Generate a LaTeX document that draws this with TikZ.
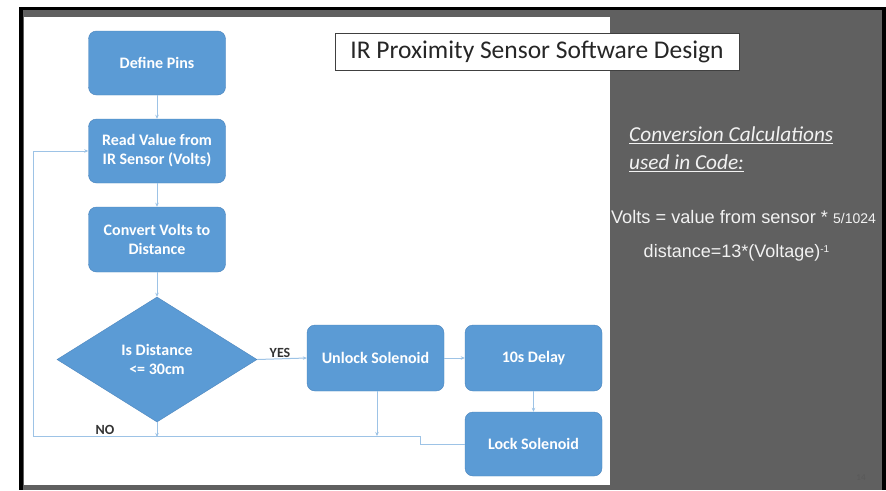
\documentclass[tikz,border=0pt]{standalone}
\usepackage{fontspec}
\setmainfont{Carlito}
\newfontfamily\arialf{Liberation Sans}
\usetikzlibrary{shapes.geometric,arrows.meta}
\definecolor{bxblue}{HTML}{5B9BD5}
\definecolor{bxedge}{HTML}{4A84BD}
\definecolor{lnblue}{HTML}{9DC3E6}
\definecolor{slgray}{HTML}{606060}
\definecolor{txtlight}{HTML}{F2F2F2}
\begin{document}
\begin{tikzpicture}[x=1pt,y=-1pt,
  box/.style={draw=bxedge, fill=bxblue, rounded corners=8pt, text=white,
    font=\bfseries\fontsize{16}{19}\selectfont, align=center,
    minimum width=137pt, minimum height=65pt, inner sep=1pt},
  decision/.style={diamond, draw=bxedge, fill=bxblue, text=white,
    font=\bfseries\fontsize{16}{19}\selectfont, align=center,
    minimum width=200pt, minimum height=125pt, inner sep=0pt},
  conn/.style={draw=lnblue, line width=1pt},
  arr/.style={conn, -{Stealth[length=4pt,width=3.5pt]}},
  lbl/.style={font=\bfseries\fontsize{14}{16}\selectfont, text=black!80, inner sep=1pt}
]
\useasboundingbox (0,0) rectangle (886,490);
% slide frame
\fill[white] (0,0) rectangle (886,490);
\fill[black] (19,7) rectangle (886,490);
\fill[slgray] (23,10) rectangle (882,490);
\fill[white] (24,17) rectangle (610,485);
% nodes
\node[box, minimum height=64pt] (def) at (157,63) {Define Pins};
\node[box, minimum height=64pt] (read) at (157,151) {Read Value from\\IR Sensor (Volts)};
\node[box] (conv) at (157,239.5) {Convert Volts to\\Distance};
\node[decision] (dia) at (157,359.5) {Is Distance\\<= 30cm};
\node[box, minimum height=66pt] (unlock) at (375.5,358) {Unlock Solenoid};
\node[box, minimum height=66pt] (delay) at (533.5,358) {10s Delay};
\node[box, minimum height=64pt] (lock) at (533.5,444) {Lock Solenoid};
\coordinate (j1) at (157,437);
\coordinate (j2) at (377,436);
\coordinate (s1) at (420,444);
\coordinate (s2) at (420,436);
\coordinate (c1) at (33,436);
\coordinate (c2) at (33,151);
% connectors
\draw[arr] (def) -- (read);
\draw[arr] (read) -- (conv);
\draw[arr] (conv) -- (dia);
\draw[arr] (dia.east) -- node[lbl, above, pos=0.46] {YES} (unlock.west);
\draw[arr] (unlock) -- (delay);
\draw[arr] (delay) -- (lock);
\draw[arr] (dia.south) -- (j1);
\draw[arr] (unlock.south -| j2) -- (j2);
\draw[arr] (lock.west) -- (s1) -- (s2) -- (c1) -- (c2) -- (read.west);
\node[lbl, anchor=south] at (105,436) {NO};
% title
\node[draw=black!75, fill=white, line width=0.8pt, minimum width=404pt, minimum height=37pt,
  inner sep=0pt, text=black!85, font=\fontsize{25.5}{29}\selectfont] (title) at (537,51.5)
  {IR Proximity Sensor Software Design};
% right text
\node[anchor=north west, align=left, text=txtlight, inner sep=0pt,
  font=\itshape\fontsize{21.3}{28}\selectfont] (head) at (629,127)
  {\underline{Conversion Calculations}\\\underline{used in Code:}};
\node[text=txtlight, inner sep=0pt, font=\arialf\fontsize{18.2}{21}\selectfont] (f1) at (743.5,217)
  {Volts = value from sensor * {\fontsize{14}{16}\selectfont 5/1024}};
\node[text=txtlight, inner sep=0pt, font=\arialf\fontsize{18}{21}\selectfont] (f2) at (736.5,253)
  {distance=13*(Voltage)\raisebox{0.55ex}{\fontsize{10}{11}\selectfont -1}};
\node[text=black!65, font=\fontsize{9}{10}\selectfont, inner sep=0pt] (pg) at (861,478) {14};
\end{tikzpicture}
\end{document}
